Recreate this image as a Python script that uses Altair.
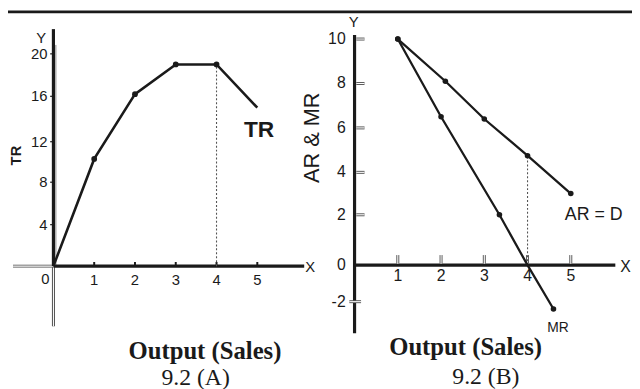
import altair as alt
import pandas as pd

# ---------------- data ----------------
tr_q = [0, 1, 2, 3, 4, 5]
tr_v = [0, 10.3, 16.2, 19.0, 19.0, 15.0]
tr_dot = [False, True, True, True, True, False]

ar_q = [1, 2.1, 3, 4, 5]
ar_v = [10, 8.1, 6.4, 4.75, 3.0]

mr_q = [1, 2, 3.35, 4, 4.6]
mr_v = [10, 6.5, 2.0, 0, -2.4]
mr_dot = [True, True, True, False, True]

left_xticks = [1, 2, 3, 4, 5]
left_yticks = [4, 8, 12, 16, 20]
right_xticks = [1, 2, 3, 4, 5]
right_yticks = [10, 8, 6, 4, 2, 0, -2]

# ---------------- styling ----------------
SANS = "Liberation Sans"
SERIF = "Liberation Serif"
INK = "#1a1a1a"
W, H = 632, 381

# hand-drawn axes: piecewise-linear scales following the printed ticks
LX = alt.Scale(domain=[0, 5], range=[46, 252.5], nice=False, zero=False)
LY = alt.Scale(domain=[-12, 0, 4, 8, 12, 16, 20, 24],
               range=[385, 259, 217, 174, 133, 87, 44, 1], nice=False, zero=False)
RX = alt.Scale(domain=[0, 5], range=[351, 570], nice=False, zero=False)
RY = alt.Scale(domain=[-6, -2, 0, 2, 4, 6, 8, 10, 12],
               range=[369, 295, 258, 207, 164, 119, 74, 29, -16], nice=False, zero=False)

one = pd.DataFrame({"k": [0]})


def xf(f, s):
    return alt.X(f, scale=s, axis=None)


def yf(f, s):
    return alt.Y(f, scale=s, axis=None)


def xd(v, s):
    return alt.XDatum(v, scale=s, axis=None)


def yd(v, s):
    return alt.YDatum(v, scale=s, axis=None)


def hrule(x0, x1, y, sx, sy, **kw):
    return alt.Chart(one).mark_rule(**kw).encode(
        x=xd(x0, sx), x2=alt.X2Datum(x1), y=yd(y, sy))


def vrule(x, y0, y1, sx, sy, **kw):
    return alt.Chart(one).mark_rule(**kw).encode(
        x=xd(x, sx), y=yd(y0, sy), y2=alt.Y2Datum(y1))


def label(txt, px, py, **kw):
    return alt.Chart(one).mark_text(**kw).encode(
        x=alt.value(px), y=alt.value(py), text=alt.value(txt))


tr_df = pd.DataFrame({"q": tr_q, "v": tr_v, "dot": tr_dot})
ar_df = pd.DataFrame({"q": ar_q, "v": ar_v})
mr_df = pd.DataFrame({"q": mr_q, "v": mr_v, "dot": mr_dot})
lxt = pd.DataFrame({"v": left_xticks, "lab": [str(v) for v in left_xticks]})
lyt = pd.DataFrame({"v": left_yticks, "lab": [str(v) for v in left_yticks]})
rxt = pd.DataFrame({"v": right_xticks, "lab": [str(v) for v in right_xticks]})
ryt = pd.DataFrame({"v": right_yticks, "lab": [str(v) for v in right_yticks]})
ryt_pos = ryt[ryt["v"] > 0]

layers = []

# top border of the page (table edge)
layers.append(alt.Chart(one).mark_rule(color=INK, strokeWidth=3).encode(
    x=alt.value(0), x2=alt.value(W), y=alt.value(1.5)))

# ---------------- left panel: TR ----------------
# outlined (hollow) extensions of the axes
for sw, col in [(3, "#444"), (1.1, "white")]:
    layers.append(vrule(0, 0, -5.8, LX, LY, color=col, strokeWidth=sw))
    layers.append(hrule(-0.99, 0, 0, LX, LY, color=col, strokeWidth=sw))
layers.append(vrule(0.06, 0, 20.84, LX, LY, color="#666", strokeWidth=0.8))
# thick axes
layers.append(vrule(0, 0, 22.33, LX, LY, color=INK, strokeWidth=3.2))
layers.append(hrule(0, 6.15, 0, LX, LY, color=INK, strokeWidth=3.2))
# tick marks
layers.append(alt.Chart(lyt).mark_rule(color=INK, strokeWidth=1.2).encode(
    y=yf("v:Q", LY), x=xd(-0.08, LX), x2=alt.X2Datum(0)))
layers.append(alt.Chart(lxt).mark_rule(color=INK, strokeWidth=2).encode(
    x=xf("v:Q", LX), y=yd(0, LY), y2=alt.Y2Datum(0.4)))
# dotted guide at q = 4
layers.append(vrule(4, 0, 19, LX, LY, color="#555", strokeWidth=1.1, strokeDash=[2, 2]))
# TR curve
layers.append(alt.Chart(tr_df).mark_line(color=INK, strokeWidth=2.6).encode(
    x=xf("q:Q", LX), y=yf("v:Q", LY)))
layers.append(alt.Chart(tr_df).transform_filter("datum.dot").mark_circle(
    size=34, color=INK, opacity=1).encode(x=xf("q:Q", LX), y=yf("v:Q", LY)))
# tick labels
layers.append(alt.Chart(lyt).mark_text(align="right", baseline="middle", dx=-6,
    font=SANS, fontSize=15, color=INK).encode(
    x=xd(0, LX), y=yf("v:Q", LY), text="lab:N"))
layers.append(alt.Chart(lxt).mark_text(align="center", baseline="middle", dy=14,
    font=SANS, fontSize=15, color=INK).encode(
    x=xf("v:Q", LX), y=yd(0, LY), text="lab:N"))
layers.append(alt.Chart(one).mark_text(align="right", baseline="middle", dx=-4, dy=13,
    font=SANS, fontSize=15, color=INK).encode(
    x=xd(0, LX), y=yd(0, LY), text=alt.value("0")))
# annotations
layers.append(label("Y", 33.5, 28.5, align="center", font=SANS, fontSize=15, color=INK))
layers.append(label("X", 301, 260, align="left", baseline="middle", font=SANS, fontSize=15, color=INK))
layers.append(label("TR", 8, 147, align="center", baseline="middle", angle=270,
                    font=SANS, fontSize=15, fontWeight="bold", color=INK))
layers.append(label("TR", 239, 121, align="left", font=SANS, fontSize=23,
                    fontWeight="bold", color=INK))
layers.append(label("Output (Sales)", 199.5, 345, align="center", font=SERIF,
                    fontSize=25, fontWeight="bold", color=INK))
layers.append(label("9.2 (A)", 190, 372, align="center", font=SERIF, fontSize=24, color=INK))

# ---------------- right panel: AR & MR ----------------
layers.append(vrule(0, -3.73, 10.18, RX, RY, color=INK, strokeWidth=3.2))
layers.append(hrule(0, 6.03, 0, RX, RY, color=INK, strokeWidth=3.2))
# hollow tick marks
for sw, col in [(3, "#555"), (1.1, "white")]:
    layers.append(alt.Chart(ryt_pos).mark_rule(color=col, strokeWidth=sw).encode(
        y=yf("v:Q", RY), x=xd(0.04, RX), x2=alt.X2Datum(0.23)))
    layers.append(hrule(-0.12, 0.15, -2, RX, RY, color=col, strokeWidth=sw))
    layers.append(alt.Chart(rxt).mark_rule(color=col, strokeWidth=sw).encode(
        x=xf("v:Q", RX), y=yd(0.06, RY), y2=alt.Y2Datum(0.4)))
# dotted guide at q = 4
layers.append(vrule(4, 0, 4.75, RX, RY, color="#555", strokeWidth=1.1, strokeDash=[2, 2]))
# AR and MR
layers.append(alt.Chart(ar_df).mark_line(color=INK, strokeWidth=2.3).encode(
    x=xf("q:Q", RX), y=yf("v:Q", RY)))
layers.append(alt.Chart(mr_df).mark_line(color=INK, strokeWidth=2.3).encode(
    x=xf("q:Q", RX), y=yf("v:Q", RY)))
layers.append(alt.Chart(ar_df).mark_circle(size=32, color=INK, opacity=1).encode(
    x=xf("q:Q", RX), y=yf("v:Q", RY)))
layers.append(alt.Chart(mr_df).transform_filter("datum.dot").mark_circle(
    size=32, color=INK, opacity=1).encode(x=xf("q:Q", RX), y=yf("v:Q", RY)))
# tick labels
layers.append(alt.Chart(ryt).mark_text(align="right", baseline="middle", dx=-9,
    font=SANS, fontSize=16, color=INK).encode(
    x=xd(0, RX), y=yf("v:Q", RY), text="lab:N"))
layers.append(alt.Chart(rxt).mark_text(align="center", baseline="middle", dy=11,
    font=SANS, fontSize=16, color=INK).encode(
    x=xf("v:Q", RX), y=yd(0, RY), text="lab:N"))
# annotations
layers.append(label("Y", 350, 12, align="center", font=SANS, fontSize=15, color=INK))
layers.append(label("X", 620, 260, align="left", baseline="middle", font=SANS, fontSize=16, color=INK))
layers.append(label("AR & MR", 308, 129, align="center", baseline="middle", angle=270,
                    font=SANS, fontSize=22, color=INK))
layers.append(label("AR = D", 564, 207, align="left", font=SANS, fontSize=18, color=INK))
layers.append(label("MR", 557, 322, align="center", font=SANS, fontSize=14, color=INK))
layers.append(label("Output (Sales)", 463.5, 341, align="center", font=SERIF,
                    fontSize=25, fontWeight="bold", color=INK))
layers.append(label("9.2 (B)", 484, 371, align="center", font=SERIF, fontSize=24, color=INK))

chart = alt.layer(*layers).resolve_scale(x="independent", y="independent").properties(
    width=W, height=H, padding=0, autosize=alt.AutoSizeParams(type="none")
).configure_view(stroke=None)

chart.save("out.html", embed_options={"renderer": "svg", "actions": False})
